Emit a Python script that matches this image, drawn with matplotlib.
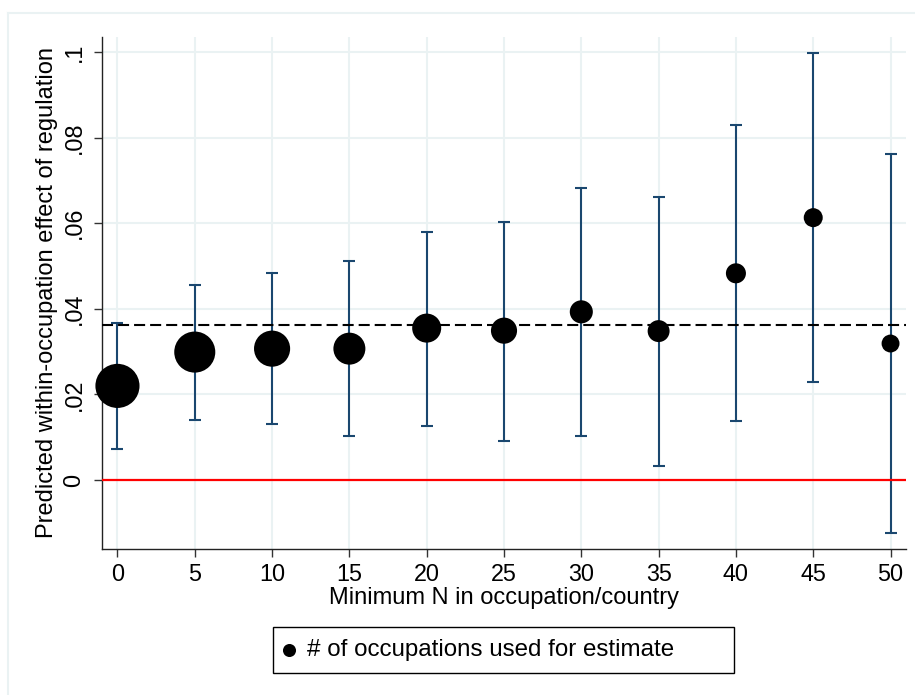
import matplotlib
matplotlib.use('Agg')
import matplotlib.pyplot as plt
from matplotlib.lines import Line2D
from matplotlib.patches import Rectangle
import numpy as np

plt.rcParams['font.family'] = ['Liberation Sans', 'DejaVu Sans']

# data
min_n = [0, 5, 10, 15, 20, 25, 30, 35, 40, 45, 50]
estimate = [0.0220, 0.0299, 0.0307, 0.0307, 0.0355, 0.0349, 0.0393, 0.0348, 0.0483, 0.0613, 0.0319]
ci_low = [0.0072, 0.0140, 0.0131, 0.0104, 0.0127, 0.0092, 0.0104, 0.0032, 0.0139, 0.0230, -0.0124]
ci_high = [0.0368, 0.0455, 0.0483, 0.0512, 0.0580, 0.0603, 0.0683, 0.0662, 0.0829, 0.0997, 0.0761]
# number of occupations (marker area weights)
n_occ = [194, 168, 130, 102, 84, 68, 53, 48, 40, 36, 32]
pooled_estimate = 0.0363

xticks = [0, 5, 10, 15, 20, 25, 30, 35, 40, 45, 50]
yticks = [0, 0.02, 0.04, 0.06, 0.08, 0.1]
ytick_labels = ['0', '.02', '.04', '.06', '.08', '.1']

navy = '#1A476F'
grid_col = '#EAF2F3'

W, H = 915, 695
fig = plt.figure(figsize=(W / 100, H / 100), dpi=100)
ax = fig.add_axes([102 / W, 1 - 549 / H, (906 - 102) / W, (549 - 37) / H])

est = np.array(estimate)
yerr = [est - np.array(ci_low), np.array(ci_high) - est]
ax.errorbar(min_n, est, yerr=yerr, fmt='none', ecolor=navy, elinewidth=1.5,
            capsize=4.3, capthick=1.5, zorder=2)
ax.axhline(0, color='red', lw=1.6, zorder=3)
ax.axhline(pooled_estimate, color='black', lw=1.5, dashes=(5.3, 2.4), zorder=3)
ax.scatter(min_n, est, s=np.array(n_occ) * 5.2, color='black', linewidths=0,
           zorder=4, clip_on=False)

ax.set_xlim(-1, 51)
ax.set_ylim(-0.0161, 0.1035)
ax.set_xticks(xticks)
ax.set_yticks(yticks)
ax.set_yticklabels(ytick_labels)
ax.grid(True, color=grid_col, lw=1.5)
ax.set_axisbelow(True)

for side in ['top', 'right']:
    ax.spines[side].set_visible(False)
for side in ['left', 'bottom']:
    ax.spines[side].set_linewidth(1.0)
    ax.spines[side].set_color('#222222')

ax.tick_params(axis='both', length=5.8, width=1.0, color='#333333', labelsize=16.8)
ax.tick_params(axis='x', pad=4)
ax.tick_params(axis='y', pad=6, labelrotation=90)
for lab in ax.get_yticklabels():
    lab.set_va('center')

ax.set_xlabel('Minimum N in occupation/country', fontsize=17, labelpad=1)
ax.set_ylabel('Predicted within-occupation effect of regulation', fontsize=17, labelpad=3)

# outer light frame
fig.add_artist(Line2D([8 / W, 8 / W], [1 - 13 / H, 0], color=grid_col, lw=1.5,
                      transform=fig.transFigure))
fig.add_artist(Line2D([8 / W, 1], [1 - 13 / H, 1 - 13 / H], color=grid_col, lw=1.5,
                      transform=fig.transFigure))

# legend box
fig.add_artist(Rectangle((273 / W, 1 - 673 / H), 461 / W, 46 / H, fill=False,
                         ec='black', lw=1.0, transform=fig.transFigure))
fig.add_artist(Line2D([289 / W], [1 - 650 / H], marker='o', ms=9.4, color='black',
                      mew=0, transform=fig.transFigure))
fig.text(307 / W, 1 - 650 / H, '# of occupations used for estimate', fontsize=17.4,
         va='center', ha='left')

fig.savefig('out.png', dpi=100)
